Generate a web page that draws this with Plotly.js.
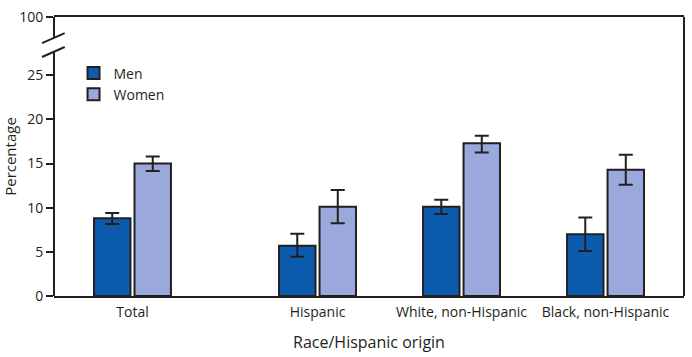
<!DOCTYPE html>
<html>
<head>
<meta charset="utf-8">
<script src="https://cdn.plot.ly/plotly-3.0.1.min.js"></script>
<style>html,body{margin:0;padding:0;background:#fff;}#chart{width:692px;height:357px;}</style>
</head>
<body>
<div id="chart"></div>
<script>
// Data
const categories = ["Total", "Hispanic", "White, non-Hispanic", "Black, non-Hispanic"];
const menValues = [8.8, 5.7, 10.1, 7.0];
const menErrPlus = [0.6, 1.35, 0.8, 1.9];
const menErrMinus = [0.65, 1.25, 0.8, 1.9];
const womenValues = [15.0, 10.1, 17.3, 14.3];
const womenErrPlus = [0.8, 1.9, 0.85, 1.7];
const womenErrMinus = [0.85, 1.85, 1.05, 1.7];
const yTickVals = [0, 5, 10, 15, 20, 25];
const yTickText = ["0", "5", "10", "15", "20", "25"];
const topTickLabel = "100";

// Layout helpers (positions, not data)
const groupPos = [0, 1.285, 2.285, 3.285];
const yTop = 31.6; // where "100" sits after the axis break
const breakLow = 27.6, breakHigh = 29.3;

const ink = "#231f20";
const fam = "Open Sans, sans-serif";
const font = {family: fam, size: 14, color: ink};

const errStyle = (plus, minus) => ({
  type: "data", symmetric: false, array: plus, arrayminus: minus,
  color: ink, thickness: 2, width: 7
});

const traces = [
  {
    type: "bar", name: "Men", x: groupPos, y: menValues,
    marker: {color: "#0b5cae", line: {color: ink, width: 2}},
    error_y: errStyle(menErrPlus, menErrMinus), hoverinfo: "y"
  },
  {
    type: "bar", name: "Women", x: groupPos, y: womenValues,
    marker: {color: "#9aa8dc", line: {color: ink, width: 2}},
    error_y: errStyle(womenErrPlus, womenErrMinus), hoverinfo: "y"
  }
];

const layout = {
  width: 692, height: 357,
  margin: {l: 54, r: 8, t: 17, b: 61},
  paper_bgcolor: "#fff", plot_bgcolor: "#fff",
  font: font,
  barmode: "group", bargap: 0.4375, bargroupgap: 0.1,
  showlegend: true,
  legend: {x: 0.031, y: 0.855, xanchor: "left", yanchor: "top",
           font: {family: fam, size: 14, color: ink},
           bgcolor: "rgba(0,0,0,0)", tracegroupgap: 0, itemwidth: 30},
  xaxis: {
    range: [-0.545, 3.83], tickvals: groupPos, ticktext: categories,
    showgrid: false, zeroline: false, showline: true, linecolor: ink, linewidth: 2,
    mirror: true, ticks: "", tickfont: font, ticklabelstandoff: 2,
    title: {text: "Race/Hispanic origin", font: {family: fam, size: 16, color: ink}, standoff: 17}
  },
  yaxis: {
    range: [0, yTop], tickvals: yTickVals.concat([yTop]), ticktext: yTickText.concat([topTickLabel]),
    showgrid: false, zeroline: false, showline: false,
    ticks: "outside", ticklen: 7, tickwidth: 2, tickcolor: ink, tickfont: font,
    title: {text: "Percentage", font: {family: fam, size: 15, color: ink}, standoff: 8}
  },
  shapes: [
    {type: "line", xref: "paper", yref: "y", x0: 0, x1: 0, y0: 0, y1: breakLow, line: {color: ink, width: 2}},
    {type: "line", xref: "paper", yref: "y", x0: 0, x1: 0, y0: breakHigh, y1: yTop, line: {color: ink, width: 2}},
    {type: "line", xref: "paper", yref: "y", x0: 1, x1: 1, y0: 0, y1: yTop, line: {color: ink, width: 2}},
    {type: "line", xref: "paper", yref: "y", x0: -0.019, x1: 0.017, y0: 28.65, y1: 29.78, line: {color: ink, width: 2}},
    {type: "line", xref: "paper", yref: "y", x0: -0.019, x1: 0.017, y0: 27.07, y1: 28.2, line: {color: ink, width: 2}}
  ]
};

Plotly.newPlot("chart", traces, layout, {displayModeBar: false, staticPlot: true});
</script>
</body>
</html>
